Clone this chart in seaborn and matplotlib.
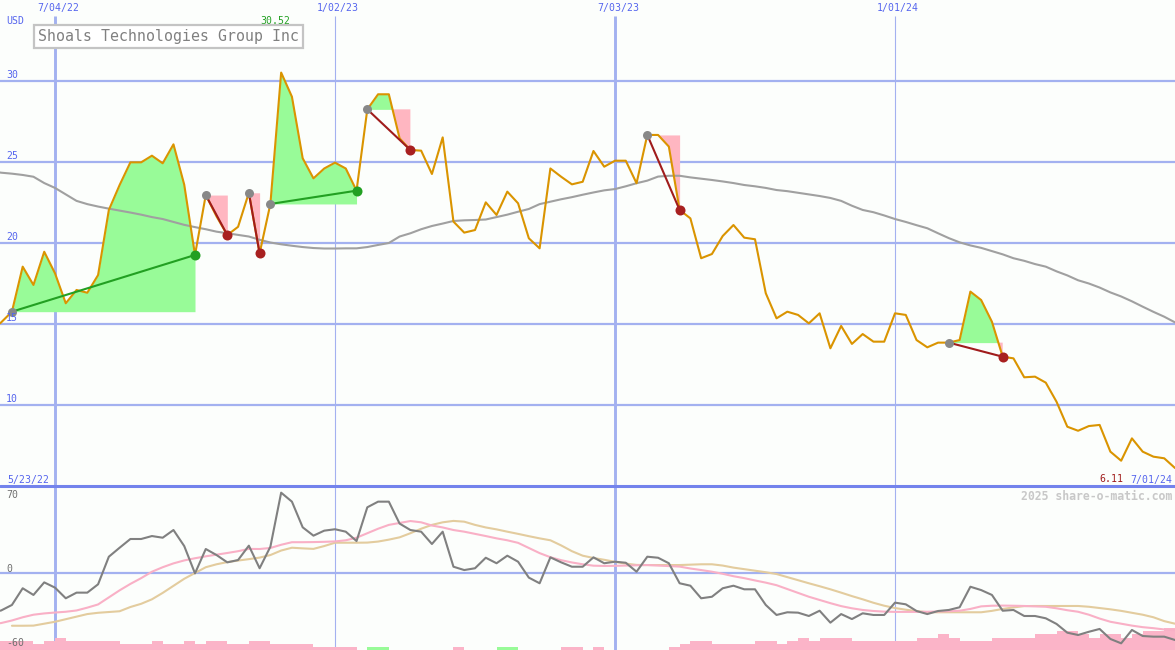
import numpy as np
import pandas as pd
import seaborn as sns
import matplotlib.pyplot as plt
from matplotlib.lines import Line2D

sns.set_style('white')
plt.rcParams['font.family'] = ['DejaVu Sans Mono', 'DejaVu Sans']

# weekly closes, Shoals Technologies Group (USD)
weeks = pd.date_range('2022-05-23', '2024-07-01', freq='7D')

price = [14.6, 15.1, 15.76, 18.54, 17.41, 19.46, 18.13, 16.28, 17.10, 16.93,
         18.02, 22.04, 23.58, 24.98, 24.98, 25.39, 24.92, 26.09, 23.60, 19.26,
         22.96, 21.64, 20.49, 21.00, 23.10, 19.36, 22.41, 30.52, 29.03, 25.23,
         23.99, 24.60, 24.96, 24.60, 23.23, 28.25, 29.18, 29.18, 26.46, 25.74,
         25.70, 24.26, 26.52, 21.32, 20.64, 20.80, 22.51, 21.73, 23.17, 22.45,
         20.29, 19.67, 24.60, 24.09, 23.62, 23.78, 25.68, 24.71, 25.08, 25.08,
         23.69, 26.67, 26.67, 25.95, 22.04, 21.52, 19.06, 19.32, 20.43, 21.11,
         20.33, 20.23, 16.90, 15.35, 15.76, 15.56, 15.04, 15.66, 13.50, 14.88,
         13.77, 14.38, 13.91, 13.91, 15.66, 15.56, 14.01, 13.56, 13.85, 13.85,
         14.01, 17.00, 16.48, 15.14, 12.98, 12.88, 11.71, 11.75, 11.38, 10.20,
         8.66, 8.41, 8.70, 8.77, 7.12, 6.56, 7.94, 7.12, 6.81, 6.71, 6.11]

# long moving average
ma_long = [24.45, 24.34, 24.28, 24.20, 24.09, 23.70, 23.40, 23.00, 22.60, 22.40,
           22.25, 22.12, 22.00, 21.88, 21.75, 21.60, 21.48, 21.30, 21.12, 20.98,
           20.85, 20.70, 20.60, 20.50, 20.40, 20.20, 20.03, 19.92, 19.83, 19.75,
           19.69, 19.66, 19.66, 19.67, 19.67, 19.75, 19.88, 20.00, 20.40, 20.60,
           20.85, 21.05, 21.20, 21.36, 21.40, 21.42, 21.45, 21.60, 21.75, 21.93,
           22.10, 22.40, 22.55, 22.70, 22.83, 22.98, 23.12, 23.25, 23.33, 23.50,
           23.69, 23.85, 24.10, 24.15, 24.15, 24.05, 23.97, 23.89, 23.80, 23.70,
           23.58, 23.50, 23.40, 23.27, 23.20, 23.10, 23.00, 22.90, 22.78, 22.60,
           22.30, 22.04, 21.90, 21.70, 21.48, 21.30, 21.10, 20.91, 20.60, 20.30,
           20.04, 19.85, 19.70, 19.50, 19.30, 19.06, 18.90, 18.70, 18.54, 18.25,
           18.00, 17.70, 17.50, 17.25, 16.95, 16.70, 16.40, 16.07, 15.75, 15.45, 15.10]

# lower panel oscillator and its two smoothings
osc = [-31.0, -29.2, -24.9, -11.9, -17.1, -7.3, -11.4, -19.7, -15.3, -15.3,
       -8.8, 12.7, 19.7, 26.5, 26.5, 28.8, 27.5, 33.5, 21.0, -0.3,
       18.7, 14.0, 8.3, 10.1, 21.3, 3.7, 20.5, 62.6, 55.6, 35.6,
       29.1, 33.0, 34.1, 32.2, 24.9, 51.2, 55.6, 55.6, 38.5, 33.5,
       32.2, 22.6, 32.2, 4.9, 2.3, 3.7, 11.9, 7.6, 13.5, 8.8,
       -3.6, -8.0, 12.2, 8.3, 4.9, 4.9, 12.2, 7.6, 8.8, 8.0,
       1.0, 12.7, 11.9, 7.6, -8.0, -9.9, -19.7, -18.5, -11.9, -9.9,
       -12.7, -12.7, -24.9, -32.7, -30.6, -30.9, -33.5, -29.4, -38.7, -32.0,
       -35.9, -31.4, -32.7, -32.7, -23.1, -24.4, -29.6, -32.0, -29.6, -28.8,
       -26.7, -10.7, -13.3, -17.1, -29.4, -28.8, -33.5, -33.5, -35.3, -39.7,
       -46.5, -48.3, -45.8, -43.6, -51.4, -54.8, -44.4, -49.1, -49.6, -49.6, -52.2]

osc_fast = [-40.0, -39.0, -37.0, -34.5, -32.5, -31.5, -30.8, -30.2, -29.2, -27.0,
            -24.5, -19.0, -13.5, -8.5, -4.0, 1.0, 4.5, 7.5, 9.8, 11.5,
            13.0, 14.3, 15.6, 17.0, 18.8, 18.7, 19.5, 22.0, 24.0, 24.0,
            24.1, 24.3, 24.6, 25.5, 27.5, 31.0, 34.5, 37.5, 39.0, 40.5,
            39.5, 37.0, 35.5, 33.5, 32.2, 30.5, 28.8, 27.0, 25.5, 23.5,
            19.5, 15.5, 12.3, 10.0, 8.2, 6.8, 5.7, 5.5, 5.6, 5.8,
            6.0, 6.2, 5.8, 5.4, 5.0, 3.5, 2.3, 1.0, -0.6, -2.5,
            -4.0, -5.8, -7.5, -9.5, -12.5, -15.5, -18.5, -21.0, -23.5, -25.8,
            -27.5, -28.8, -29.6, -30.1, -30.3, -30.3, -30.3, -30.2, -30.0, -29.8,
            -29.4, -28.0, -26.0, -25.5, -25.4, -25.5, -25.7, -26.0, -26.3, -27.5,
            -29.0, -30.2, -32.5, -35.5, -38.0, -39.5, -41.0, -42.2, -43.0, -44.0, -44.6]

osc_slow = [np.nan, np.nan, -41.1, -41.1, -41.0, -39.5, -38.0, -36.0, -34.0, -32.0,
            -31.0, -30.4, -29.8, -26.5, -24.0, -20.5, -15.5, -10.0, -4.5, 0.0,
            4.5, 6.8, 8.5, 9.7, 10.8, 12.0, 14.0, 17.5, 19.7, 19.2,
            18.8, 21.0, 23.6, 23.6, 23.6, 23.7, 24.5, 26.0, 27.8, 31.0,
            34.5, 37.5, 39.5, 40.6, 40.0, 37.5, 35.5, 34.0, 32.2, 30.5,
            28.7, 27.0, 25.5, 21.5, 17.0, 13.5, 11.7, 10.3, 8.7, 7.3,
            6.3, 6.2, 6.2, 6.2, 6.2, 6.5, 6.8, 6.8, 5.8, 4.2,
            3.0, 1.8, 0.6, -0.8, -3.2, -5.6, -8.0, -10.3, -12.7, -15.3,
            -18.0, -20.5, -23.2, -25.5, -27.3, -28.6, -29.7, -30.5, -30.6, -30.6,
            -30.6, -30.6, -30.6, -29.5, -28.0, -26.8, -25.8, -25.7, -25.7, -25.7,
            -25.7, -25.7, -26.3, -27.3, -28.3, -29.5, -31.0, -32.5, -34.5, -37.5, -39.5]

# weekly strength bars (positive = pink, negative = green)
bar_level = [3, 3, 3, 3, 2, 3, 4, 3, 3, 3,
             3, 3, 2, 2, 2, 3, 2, 2, 3, 2,
             3, 3, 2, 2, 3, 3, 2, 2, 2, 2,
             1, 1, 1, 1, 0, -1, -1, 0, 0, 0,
             0, 0, 0, 1, 0, 0, 0, -1, -1, 0,
             0, 0, 0, 1, 1, 0, 1, 0, 0, 0,
             0, 0, 0, 1, 2, 3, 3, 2, 2, 2,
             2, 3, 3, 2, 3, 4, 3, 4, 4, 4,
             3, 3, 3, 3, 3, 3, 4, 4, 5, 4,
             3, 3, 3, 4, 4, 4, 4, 5, 5, 6,
             6, 5, 4, 5, 5, 4, 5, 6, 6, 7, 7]

# (entry week, exit week) of each signalled trade
trades = [(2, 19), (20, 22), (24, 25), (26, 34), (35, 39), (61, 64), (89, 94)]

grid_dates = pd.to_datetime(['2022-07-04', '2023-01-02', '2023-07-03', '2024-01-01'])

df = pd.DataFrame({'date': weeks, 'price': price, 'ma': ma_long,
                   'osc': osc, 'fast': osc_fast, 'slow': osc_slow, 'bar': bar_level})

bg = '#fcfefc'
grid_c = '#a3b1f0'
blue_txt = '#5565ee'
W, H = 1175, 650

fig = plt.figure(figsize=(11.75, 6.5), dpi=100, facecolor=bg)
ax = fig.add_axes([0, 164 / H, 1, 486 / H], facecolor=bg)
ax2 = fig.add_axes([0, 0, 1, 164 / H], facecolor=bg)

x0 = pd.Timestamp('2022-07-04') - pd.Timedelta(days=35.75)
x1 = pd.Timestamp('2024-07-01')
for a in (ax, ax2):
    a.set_xlim(x0, x1)
    a.set_xticks([])
    a.set_yticks([])
    for s in a.spines.values():
        s.set_visible(False)
ax.set_ylim(5, 35)
ax2.set_ylim(-60, 67.8)

# grid
for v in [10, 15, 20, 25, 30]:
    ax.axhline(v, color=grid_c, lw=1.6, zorder=0)
ax2.axhline(0, color=grid_c, lw=1.6, zorder=0)
for i, d in enumerate(grid_dates):
    lw = 2.1 if i % 2 == 0 else 0.8
    ax.vlines(d, 5, 34.0, color=grid_c, lw=lw, zorder=0)
    ax2.axvline(d, color=grid_c, lw=lw, zorder=0)
    ax.annotate(d.strftime('%-m/%d/%y'), xy=(d, 34.5), xytext=(3, 0), textcoords='offset pixels',
                ha='center', va='center', fontsize=7.1, color=blue_txt)

# trade shading
for i_in, i_out in trades:
    seg = df.iloc[i_in:i_out + 1]
    p0 = price[i_in]
    ax.fill_between(seg['date'], seg['price'], p0, where=(seg['price'] >= p0).values,
                    interpolate=True, color='#98fb98', lw=0, zorder=1)
    ax.fill_between(seg['date'], seg['price'], p0, where=(seg['price'] <= p0).values,
                    interpolate=True, color='#ffb6c1', lw=0, zorder=1)

sns.lineplot(data=df, x='date', y='ma', ax=ax, color='#a0a0a0', lw=1.5, legend=False, zorder=2)
sns.lineplot(data=df, x='date', y='price', ax=ax, color='#da9400', lw=1.5, legend=False, zorder=3)

for i_in, i_out in trades:
    win = price[i_out] > price[i_in]
    ax.plot([weeks[i_in], weeks[i_out]], [price[i_in], price[i_out]],
            color='#22a022' if win else '#a01c1c', lw=1.5, zorder=4)
    ax.scatter(weeks[i_in], price[i_in], s=42, color='#888888', lw=0, zorder=5)
    ax.scatter(weeks[i_out], price[i_out], s=52, color='#22a022' if win else '#a82020', lw=0, zorder=5)
ax.set_xlabel('')
ax.set_ylabel('')

# lower panel
bar_h = np.abs(df['bar'].values) * 2.42
bar_c = ['#98fb98' if b < 0 else '#fbb4c8' for b in df['bar']]
ax2.bar(df['date'], bar_h, width=7, align='edge', bottom=-60, color=bar_c, lw=0, zorder=1)
sns.lineplot(data=df, x='date', y='slow', ax=ax2, color='#e3cc9e', lw=1.5, legend=False, zorder=2)
sns.lineplot(data=df, x='date', y='fast', ax=ax2, color='#f9b0c6', lw=1.5, legend=False, zorder=2)
sns.lineplot(data=df, x='date', y='osc', ax=ax2, color='#808080', lw=1.5, legend=False, zorder=3)
ax2.set_xlabel('')
ax2.set_ylabel('')

# separator between panels
fig.add_artist(Line2D([0, 1], [164 / H, 164 / H], color='#7383ec', lw=2.2))

# labels
for v in [30, 25, 20, 15, 10]:
    ax.annotate(str(v), xy=(6 / W, v + 0.36), xycoords=('axes fraction', 'data'),
                ha='left', va='center', fontsize=7.1, color=blue_txt, zorder=6)
for v, yy in [('70', 60.4), ('0', 3.1), ('-60', -54.2)]:
    ax2.annotate(v, xy=(6 / W, yy), xycoords=('axes fraction', 'data'),
                 ha='left', va='center', fontsize=7.1, color='#707070', zorder=6)

def ftext(x, y, s, **kw):
    fig.text(x / W, 1 - y / H, s, **kw)

ftext(6, 21.5, 'USD', ha='left', va='center', fontsize=7.1, color=blue_txt)
ax.annotate(f'{max(price):.2f}', xy=(weeks[int(np.argmax(price))], 33.7), xytext=(-6, 0),
            textcoords='offset pixels', ha='center', va='center', fontsize=7.1, color='#22a022')
ftext(38, 36.5, 'Shoals Technologies Group Inc', ha='left', va='center', fontsize=10.7, color='#808080',
      bbox=dict(boxstyle='square,pad=0.3', fc='white', ec='#c4c4c4', lw=1.6))
ftext(7, 479.5, weeks[0].strftime('%-m/%d/%y'), ha='left', va='center', fontsize=7.1, color=blue_txt)
ftext(1123, 479.5, f'{price[-1]:.2f}', ha='right', va='center', fontsize=7.1, color='#a01c1c')
ftext(1172, 479.5, weeks[-1].strftime('%-m/%d/%y'), ha='right', va='center', fontsize=7.1, color=blue_txt)
ftext(1172, 496.5, '2025 share-o-matic.com', ha='right', va='center', fontsize=8.3,
      fontweight='bold', color='#c8c8c8')

fig.savefig('out.png', dpi=100, facecolor=bg)
